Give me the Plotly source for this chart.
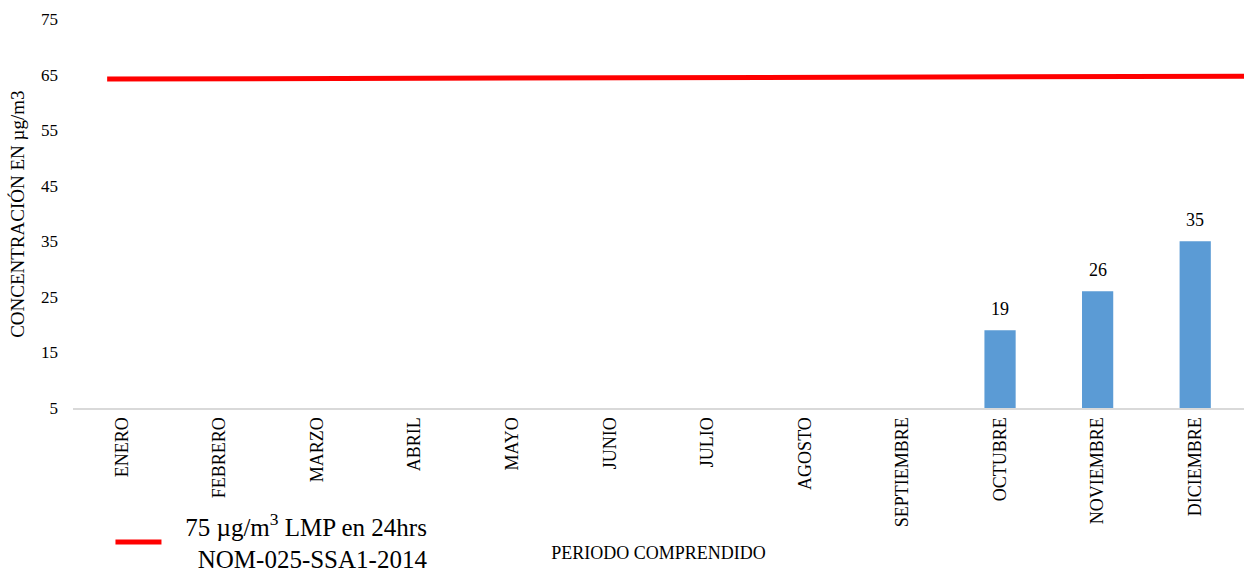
import plotly.graph_objects as go

months = ["ENERO", "FEBRERO", "MARZO", "ABRIL", "MAYO", "JUNIO", "JULIO",
          "AGOSTO", "SEPTIEMBRE", "OCTUBRE", "NOVIEMBRE", "DICIEMBRE"]
concentration = [None, None, None, None, None, None, None, None, None, 19, 26, 35]
limit_start = 64.2
limit_end = 64.7
y_ticks = [5, 15, 25, 35, 45, 55, 65, 75]

FONT = "Liberation Serif, Times New Roman, serif"

fig = go.Figure()
fig.add_trace(go.Bar(
    x=months, y=concentration,
    marker=dict(color="#5B9BD5", line=dict(width=0)),
    showlegend=False,
))
for m, v in zip(months, concentration):
    if v is not None:
        fig.add_annotation(x=m, y=v, text=str(v), showarrow=False,
                           yanchor="bottom", yshift=9,
                           font=dict(size=18, color="#000", family=FONT))
# legend entry for the limit line
fig.add_trace(go.Scatter(
    x=[None], y=[None], mode="lines",
    line=dict(color="#FF0000", width=5),
    name=("&nbsp;&nbsp;&nbsp;75 µg/m<sup>3</sup> LMP en 24hrs<br>"
          "&nbsp;&nbsp;&nbsp;&nbsp;&nbsp;NOM-025-SSA1-2014"),
    showlegend=True,
))
fig.add_shape(type="line", xref="x", yref="y",
              x0=-0.15, x1=11.5, y0=limit_start, y1=limit_end,
              line=dict(color="#FF0000", width=5))
# y-axis title
fig.add_annotation(xref="paper", yref="paper", x=-0.047, y=0.499,
                   xanchor="center", yanchor="middle", textangle=-90,
                   text="CONCENTRACIÓN EN µg/m3", showarrow=False,
                   font=dict(size=19, color="#000", family=FONT))

fig.update_layout(
    width=1245, height=575,
    margin=dict(l=73, r=1, t=19, b=167, autoexpand=False),
    plot_bgcolor="white", paper_bgcolor="white",
    font=dict(family=FONT, color="#000", size=18),
    bargap=0.68,
    legend=dict(x=0.032, y=-0.445, xanchor="left", yanchor="bottom",
                font=dict(size=25, family=FONT), itemwidth=46,
                bgcolor="rgba(0,0,0,0)"),
    xaxis=dict(
        categoryorder="array", categoryarray=months,
        tickangle=-90, tickfont=dict(size=18),
        showline=True, linecolor="#D9D9D9", linewidth=2,
        showgrid=False, ticks="",
        title=dict(text="PERIODO COMPRENDIDO", font=dict(size=18), standoff=20),
        range=[-0.5, 11.5],
    ),
    yaxis=dict(
        range=[5, 75], tickvals=y_ticks, showgrid=False, zeroline=False,
        showline=False, tickfont=dict(size=17), ticks="",
        ticklabelstandoff=14,
    ),
)
fig.write_html("out.html", config={"displayModeBar": False},
               post_script="document.body.style.margin='0';document.body.style.padding='0';")
